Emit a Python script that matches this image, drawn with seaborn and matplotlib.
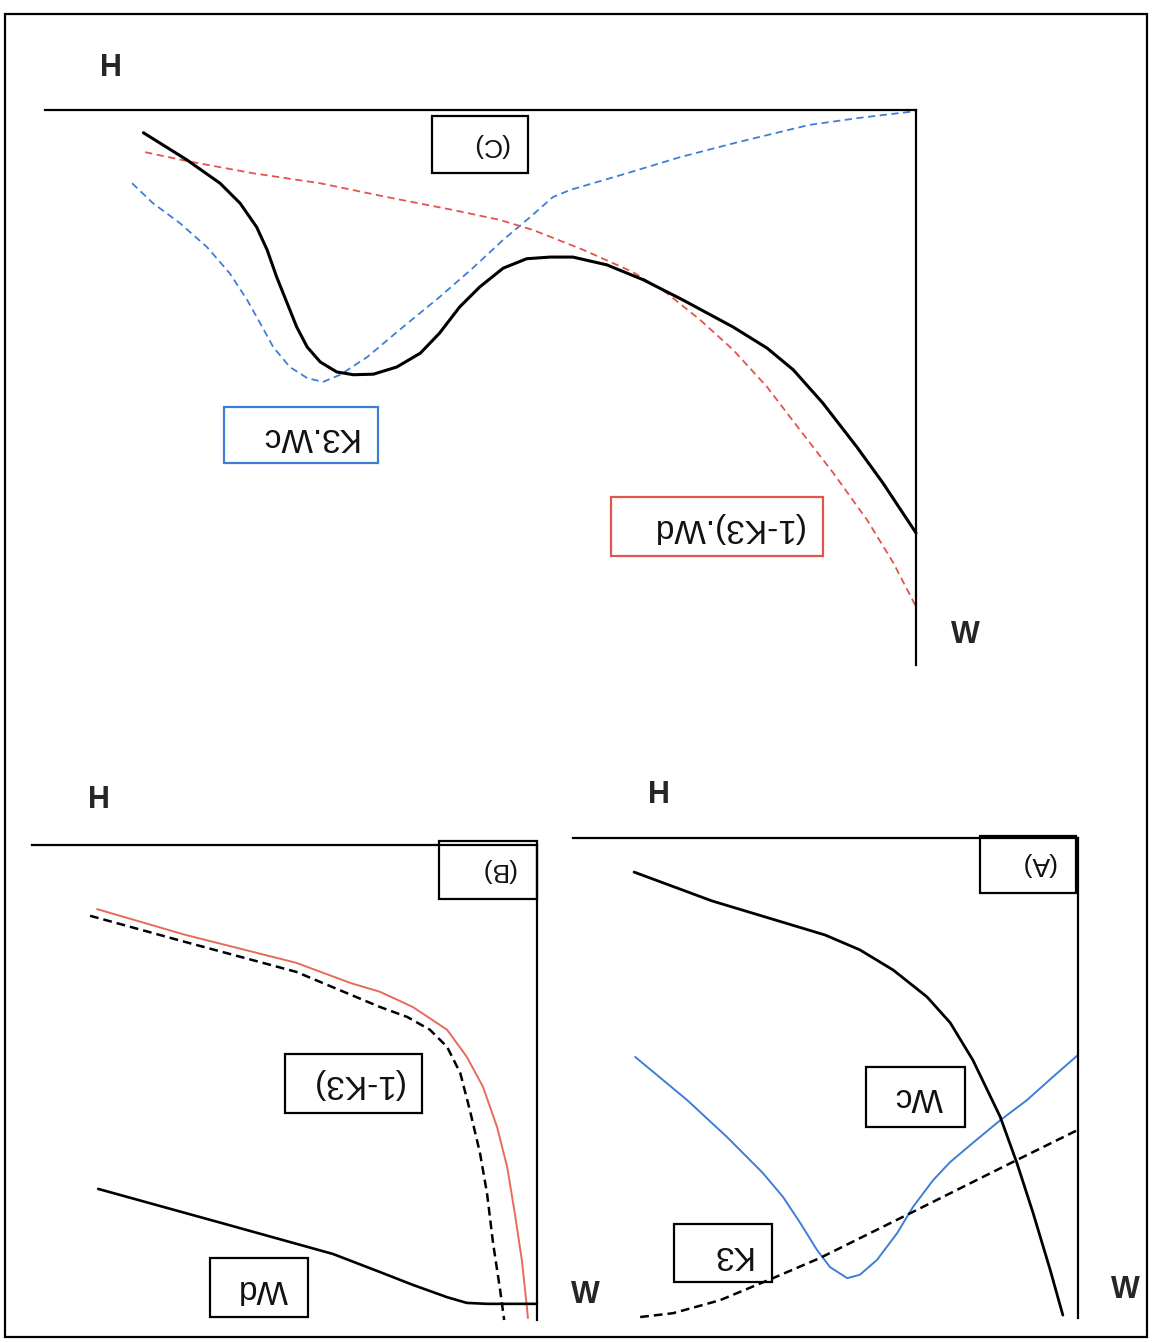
import matplotlib
matplotlib.use("Agg")
import pandas as pd
import seaborn as sns
from matplotlib import pyplot as plt
from matplotlib.patches import Rectangle

sns.set_style("white")
plt.rcParams['font.family'] = ['Liberation Sans', 'DejaVu Sans']

FIG_W, FIG_H = 1154, 1343

# panel (C): H against W, arbitrary units 0..10
c_total_w = [8.87, 8.37, 7.99, 7.76, 7.57, 7.45, 7.34, 7.22, 7.11, 6.99, 6.84, 6.65, 6.46, 6.23, 5.96, 5.69,
             5.47, 5.24, 5.01, 4.74, 4.47, 4.20, 3.94, 3.55, 3.13, 2.68, 2.10, 1.71, 1.41, 1.07, 0.68, 0.38, 0.0]
c_total_h = [0.41, 0.90, 1.32, 1.68, 2.11, 2.52, 3.01, 3.48, 3.91, 4.27, 4.54, 4.72, 4.77, 4.76, 4.63, 4.38,
             4.02, 3.55, 3.19, 2.85, 2.68, 2.65, 2.65, 2.79, 3.06, 3.42, 3.91, 4.29, 4.68, 5.28, 6.07, 6.72, 7.62]
c_k3wc_w = [9.00, 8.76, 8.45, 8.14, 7.88, 7.68, 7.53, 7.38, 7.19, 6.99, 6.81, 6.61, 6.30, 5.89, 5.47, 5.09,
            4.74, 4.43, 4.17, 3.97, 3.34, 2.71, 2.07, 1.23, 0.64, 0.0]
c_k3wc_h = [1.32, 1.68, 2.04, 2.47, 2.94, 3.42, 3.84, 4.27, 4.63, 4.83, 4.90, 4.77, 4.45, 3.91, 3.37, 2.85,
            2.34, 1.93, 1.57, 1.44, 1.15, 0.85, 0.59, 0.27, 0.14, 0.02]
c_k3wd_w = [8.85, 8.37, 7.61, 6.84, 6.07, 5.32, 4.78, 4.40, 3.82, 3.25, 2.86, 2.48, 2.10, 1.71, 1.33, 0.95,
            0.56, 0.26, 0.0]
c_k3wd_h = [0.76, 0.92, 1.14, 1.32, 1.57, 1.80, 1.98, 2.16, 2.52, 2.92, 3.30, 3.78, 4.32, 4.99, 5.77, 6.54,
            7.39, 8.16, 8.95]

# panel (B)
b_k3_w = [8.71, 6.97, 4.77, 3.68, 3.11, 2.46, 1.78, 1.39, 1.07, 0.79, 0.59, 0.44, 0.30, 0.20, 0.18]
b_k3_h = [1.35, 1.89, 2.48, 2.91, 3.09, 3.41, 3.89, 4.46, 5.09, 5.94, 6.78, 7.75, 8.74, 9.73, 9.96]
b_dash_w = [8.85, 6.97, 4.77, 3.11, 2.57, 2.12, 1.78, 1.52, 1.33, 1.13, 0.99, 0.87, 0.73, 0.65]
b_dash_h = [1.49, 2.04, 2.67, 3.41, 3.62, 3.89, 4.25, 4.80, 5.58, 6.48, 7.33, 8.38, 9.37, 10.0]
b_wd_w = [8.69, 6.24, 4.04, 3.11, 2.46, 1.78, 1.39, 0.99, 0.0]
b_wd_h = [7.24, 7.96, 8.61, 8.99, 9.26, 9.52, 9.64, 9.66, 9.66]

# panel (A)
a_wc_w = [8.79, 7.25, 5.01, 4.32, 3.66, 2.99, 2.53, 2.08, 1.54, 1.21, 0.89, 0.55, 0.30]
a_wc_h = [0.71, 1.31, 2.02, 2.33, 2.75, 3.31, 3.85, 4.63, 5.81, 6.77, 7.81, 9.00, 9.94]
a_blue_w = [8.77, 7.74, 6.95, 6.24, 5.84, 5.50, 5.17, 4.91, 4.57, 4.32, 3.98, 3.58, 3.27, 2.87, 2.53, 2.08,
            1.54, 1.01, 0.50, 0.0]
a_blue_h = [4.56, 5.46, 6.23, 6.98, 7.48, 8.02, 8.58, 8.94, 9.17, 9.10, 8.79, 8.23, 7.69, 7.13, 6.75, 6.35,
            5.88, 5.46, 4.98, 4.52]
a_k3_w = [8.67, 8.02, 7.09, 6.04, 5.11, 3.27, 1.29, 0.0]
a_k3_h = [9.98, 9.90, 9.63, 9.17, 8.75, 7.79, 6.75, 6.08]

BLUE = '#3d7fd6'
RED = '#e2554c'
SALMON = '#ea6a5a'


def fx(px):
    return px / FIG_W


def fy(py):
    return 1 - py / FIG_H


def panel(fig, x0, y0, x1, y1):
    # scan is upside down: W grows to the left, H grows downwards
    ax = fig.add_axes([fx(x0), fy(y1), (x1 - x0) / FIG_W, (y1 - y0) / FIG_H])
    ax.set_xlim(10, 0)
    ax.set_ylim(10, 0)
    ax.patch.set_alpha(0)
    for side in ['left', 'bottom']:
        ax.spines[side].set_visible(False)
    for side in ['top', 'right']:
        ax.spines[side].set_visible(True)
        ax.spines[side].set_color('black')
        ax.spines[side].set_linewidth(1.6)
    ax.set_xticks([])
    ax.set_yticks([])
    return ax


def curve(ax, w, h, color, lw, ls='-'):
    df = pd.DataFrame({'W': w, 'H': h})
    sns.lineplot(data=df, x='W', y='H', ax=ax, sort=False, estimator=None,
                 color=color, linewidth=lw, linestyle=ls, clip_on=False,
                 solid_joinstyle='round', dash_joinstyle='round')
    ax.set_xlabel('')
    ax.set_ylabel('')


def label_box(fig, x0, y0, x1, y1, tx, ty, text, color='black', size=24):
    fig.add_artist(Rectangle((fx(x0), fy(y1)), (x1 - x0) / FIG_W, (y1 - y0) / FIG_H,
                             transform=fig.transFigure, fill=False, ec=color, lw=1.6))
    fig.text(fx(tx), fy(ty), text, rotation=180, rotation_mode='anchor',
             ha='center', va='center', fontsize=size, color='#111111')


def axis_letter(fig, px, py, s):
    fig.text(fx(px), fy(py), s, ha='center', va='center', fontsize=22, fontweight='bold')


fig = plt.figure(figsize=(FIG_W / 100, FIG_H / 100), dpi=100)
fig.add_artist(Rectangle((fx(5), fy(1337)), 1142 / FIG_W, 1323 / FIG_H,
                         transform=fig.transFigure, fill=False, ec='black', lw=1.6))

dash_c = (0, (4, 2.5))
dash_k = (0, (3.5, 2))

ax_c = panel(fig, 45, 110, 916, 665)
curve(ax_c, c_k3wc_w, c_k3wc_h, BLUE, 1.3, dash_c)
curve(ax_c, c_k3wd_w, c_k3wd_h, RED, 1.3, dash_c)
curve(ax_c, c_total_w, c_total_h, 'black', 2.2)

ax_b = panel(fig, 32, 845, 537, 1320)
curve(ax_b, b_k3_w, b_k3_h, SALMON, 1.4)
curve(ax_b, b_dash_w, b_dash_h, 'black', 1.8, dash_k)
curve(ax_b, b_wd_w, b_wd_h, 'black', 1.9)

ax_a = panel(fig, 573, 838, 1078, 1318)
curve(ax_a, a_blue_w, a_blue_h, BLUE, 1.4)
curve(ax_a, a_k3_w, a_k3_h, 'black', 1.8, dash_k)
curve(ax_a, a_wc_w, a_wc_h, 'black', 2.0)

label_box(fig, 432, 116, 528, 173, 490, 145, '(C)', size=19)
label_box(fig, 224, 407, 378, 463, 308, 436, 'K3.Wc', color=BLUE)
label_box(fig, 611, 497, 823, 556, 727, 527, '(1-K3).Wd', color=RED)

label_box(fig, 439, 841, 537, 899, 498, 870, '(B)', size=19)
label_box(fig, 285, 1054, 422, 1113, 356, 1083, '(1-K3)')
label_box(fig, 210, 1258, 308, 1317, 263, 1288, 'Wd')

label_box(fig, 980, 836, 1076, 893, 1038, 864, '(A)', size=19)
label_box(fig, 866, 1067, 965, 1127, 919, 1096, 'Wc')
label_box(fig, 674, 1224, 772, 1282, 731, 1254, 'K3')

axis_letter(fig, 111, 68, 'H')
axis_letter(fig, 965, 635, 'W')
axis_letter(fig, 99, 800, 'H')
axis_letter(fig, 585, 1295, 'W')
axis_letter(fig, 659, 795, 'H')
axis_letter(fig, 1125, 1290, 'W')

fig.savefig('out.png', dpi=100)
